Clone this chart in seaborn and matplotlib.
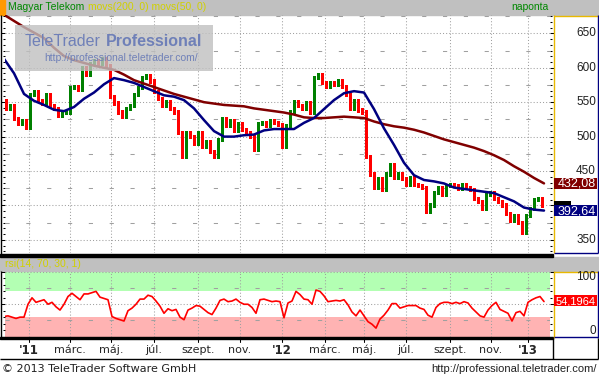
import numpy as np
import pandas as pd
import seaborn as sns
import matplotlib.pyplot as plt
import matplotlib.transforms as mtransforms
from matplotlib.patches import Rectangle
from matplotlib.ticker import MultipleLocator

# Budapest exchange holidays in the period shown (x axis runs in trading days)
holidays = ['2010-12-24', '2011-03-14', '2011-03-15', '2011-04-25', '2011-06-13',
            '2011-10-31', '2011-11-01', '2011-12-26', '2012-03-15', '2012-03-16',
            '2012-04-09', '2012-04-30', '2012-05-01', '2012-05-28', '2012-08-20',
            '2012-10-22', '2012-10-23', '2012-11-01', '2012-11-02', '2012-12-24',
            '2012-12-25', '2012-12-26', '2012-12-31', '2013-01-01']
first_day = '2010-11-26'

# Magyar Telekom close, read every 4th trading day
close = [552, 540, 545, 525, 518, 522, 513, 560, 565, 552,
         548, 560, 545, 540, 530, 535, 535, 570, 572, 568,
         600, 590, 605, 610, 605, 612, 602, 558, 548, 535,
         528, 540, 545, 560, 570, 585, 588, 580, 565, 555,
         545, 550, 540, 535, 505, 470, 505, 500, 490, 505,
         485, 492, 478, 470, 495, 525, 515, 522, 508, 518,
         510, 505, 500, 480, 518, 520, 515, 522, 520, 517,
         485, 515, 535, 550, 545, 540, 548, 535, 585, 590,
         578, 572, 578, 575, 580, 572, 560, 540, 552, 538,
         535, 470, 445, 425, 438, 422, 445, 458, 440, 445,
         438, 430, 440, 430, 428, 425, 390, 400, 418, 425,
         415, 428, 430, 428, 424, 430, 426, 422, 410, 405,
         395, 415, 418, 410, 405, 400, 388, 378, 385, 375,
         360, 385, 395, 408, 410, 400]

# rsi(14), same days as close
rsi = [31, 32, 30, 28, 30, 30, 50, 60, 53, 55,
       57, 50, 53, 46, 41, 50, 62, 67, 62, 57,
       66, 66, 68, 70, 61, 59, 57, 31, 28, 26,
       24, 40, 44, 50, 58, 58, 64, 62, 55, 47,
       36, 43, 40, 42, 30, 26, 41, 44, 48, 47,
       42, 37, 34, 44, 56, 58, 54, 55, 58, 53,
       50, 50, 45, 36, 57, 58, 56, 54, 55, 54,
       29, 52, 55, 70, 65, 58, 57, 50, 72, 70,
       63, 54, 55, 56, 55, 57, 49, 38, 32, 41,
       32, 23, 19, 13, 27, 33, 41, 51, 51, 44,
       46, 48, 48, 48, 44, 42, 33, 30, 45, 51,
       53, 53, 51, 53, 51, 54, 52, 44, 38, 32,
       30, 41, 48, 53, 42, 39, 36, 24, 37, 39,
       32, 53, 57, 60, 62, 54.1964]

# moving averages, read every 10th trading day
ma200 = [677, 668, 659, 651, 643, 629, 617, 611, 607, 603,
         600, 597, 590, 582, 577, 572, 567, 562, 558, 554,
         550, 548, 546, 545, 544, 541, 539, 537, 535, 532,
         528, 527, 527, 528, 529, 528, 527, 522, 518, 515,
         513, 510, 506, 501, 496, 492, 488, 484, 479, 473,
         466, 457, 449, 440, 432.08]
ma50 = [613, 592, 562, 552, 546, 539, 537, 543, 555, 564,
        576, 585, 582, 578, 572, 566, 560, 558, 553, 541,
        524, 508, 500, 500, 502, 503, 509, 511, 511, 511,
        520, 527, 540, 553, 563, 566, 564, 540, 512, 488,
        462, 444, 437, 435, 432, 426, 424, 422, 420, 418,
        412, 406, 397, 394, 392.64]

month_starts = ['2011-01-01', '2011-03-01', '2011-05-01', '2011-07-01', '2011-09-01',
                '2011-11-01', '2012-01-01', '2012-03-01', '2012-05-01', '2012-07-01',
                '2012-09-01', '2012-11-01', '2013-01-01']
month_labels = ["'11", 'márc.', 'máj.', 'júl.', 'szept.', 'nov.', "'12",
                'márc.', 'máj.', 'júl.', 'szept.', 'nov.', "'13"]
# 400 sits behind the value boxes on the right scale
price_labels = [350, 450, 500, 550, 600, 650]

sns.set_style('white')
plt.rcParams['font.family'] = ['DejaVu Sans']

cal = pd.offsets.CustomBusinessDay(holidays=holidays)
days = pd.date_range(first_day, '2013-03-29', freq=cal)
px = pd.DataFrame({'date': days[::4][:len(close)], 'close': close, 'rsi': rsi})
px['day'] = days.get_indexer(px['date'])
ma = pd.DataFrame({'date': days[::10][:len(ma50)], 'ma200': ma200, 'ma50': ma50})
ma['day'] = days.get_indexer(ma['date'])
tick_days = [days.searchsorted(pd.Timestamp(m)) for m in month_starts]

W, H = 599, 377
fig = plt.figure(figsize=(W / 100, H / 100), dpi=100)
fig.patch.set_facecolor('white')


def box(x0, y0, x1, y1):
    return [x0 / W, 1 - y1 / H, (x1 - x0) / W, (y1 - y0) / H]


bg = fig.add_axes([0, 0, 1, 1], zorder=0)
bg.set_xlim(0, W)
bg.set_ylim(H, 0)
bg.axis('off')
bg.add_patch(Rectangle((0, 0), W, 14.5, color='#c0c0c0'))
bg.add_patch(Rectangle((0, 0), 5, 14.5, color='#ff9900'))
bg.add_patch(Rectangle((0, 256.5), W, 14, color='#c0c0c0'))

XLIM = (1, 546)
DOT = dict(color='#a0a0a0', lw=0.75, ls=(0, (1, 2)), zorder=1)
DASH = dict(color='#a0a0a0', lw=0.75, ls=(0, (4, 16)), zorder=1)

# ---- price panel
ax = fig.add_axes(box(5, 15, 550, 253), zorder=2)
ax.set_facecolor('none')
for lv in range(350, 651, 50):
    ax.axhline(lv, **DOT)
for lv in range(375, 700, 50):
    ax.axhline(lv, **DASH)
for d in tick_days:
    ax.axvline(d, **DOT)

# bars from one reading to the next, a little range added for the intraday swing
prev = px['close'].shift(1).to_numpy()
cur = px['close'].to_numpy()
lo = np.minimum(prev, cur)[1:] - 3
hi = np.maximum(prev, cur)[1:] + 3
cols = np.where(cur[1:] >= prev[1:], '#008000', '#ff0000')
ax.bar(px['day'].to_numpy()[1:] - 1.5, hi - lo, bottom=lo, width=2.8,
       color=cols, linewidth=0, zorder=2)

sns.lineplot(data=ma, x='day', y='ma200', ax=ax, color='#800000', linewidth=1.8, zorder=3)
sns.lineplot(data=ma, x='day', y='ma50', ax=ax, color='#000080', linewidth=1.8, zorder=4)
ax.set_xlim(*XLIM)
ax.set_ylim(331, 676.6)
ax.yaxis.set_major_locator(MultipleLocator(50))
ax.yaxis.set_minor_locator(MultipleLocator(50 / 6))

# ---- rsi panel
rax = fig.add_axes(box(5, 272, 550, 336.5), zorder=2)
rax.set_facecolor('none')
rax.axhspan(70, 100, color='#b3ffb3', zorder=0, lw=0)
rax.axhspan(0, 30, color='#ffb3b3', zorder=0, lw=0)
for lv in (0, 50, 100):
    rax.axhline(lv, clip_on=False, **DOT)
for lv in (25, 75):
    rax.axhline(lv, **DASH)
for d in tick_days:
    rax.axvline(d, **DOT)
sns.lineplot(data=px, x='day', y='rsi', ax=rax, color='#ff0000', linewidth=1.2, zorder=3)
rax.set_xlim(*XLIM)
rax.set_ylim(0, 100)
rax.yaxis.set_major_locator(MultipleLocator(50))
rax.yaxis.set_minor_locator(MultipleLocator(10))

for a in (ax, rax):
    a.set(xlabel=None, ylabel=None)
    for s in a.spines.values():
        s.set_visible(False)
    a.tick_params(axis='x', bottom=False, labelbottom=False)
    a.tick_params(axis='y', which='both', left=True, right=True, labelleft=False,
                  labelright=False, direction='out', color='black', width=0.75)
    a.tick_params(axis='y', which='major', length=3)
    a.tick_params(axis='y', which='minor', length=1.6)

# ---- overlay: frames, labels, watermark
ov = fig.add_axes([0, 0, 1, 1], zorder=10)
ov.set_xlim(0, W)
ov.set_ylim(H, 0)
ov.axis('off')


def ypix(a, v):
    return H - a.transData.transform((0, v))[1]


YEL, NAVY = '#e8b800', '#000080'
ln = dict(lw=1, solid_capstyle='butt')
ov.add_patch(Rectangle((0, 253.5), 553, 3, color='black'))
ov.add_patch(Rectangle((0, 337), 553, 2, color='black'))
ov.plot([0.5, 0.5], [15, 253.5], color='black', **ln)
ov.plot([0.5, 0.5], [271, 337], color='black', **ln)
for top, bot in ((15, 253), (271, 337.5)):
    ov.plot([553.5, 553.5], [top, bot], color=YEL, **ln)
    ov.plot([553.5, 597.5], [top + 0.5, top + 0.5], color=YEL, **ln)
    ov.plot([597.5, 597.5], [top, bot], color=NAVY, **ln)
    ov.plot([553.5, 597.5], [bot - 0.5, bot - 0.5], color=NAVY, **ln)
ov.plot([0, 598], [358.5, 358.5], color='black', **ln)
ov.plot([552.5, 552.5], [338, 358.5], color='black', **ln)
ov.plot([597.5, 597.5], [338, 358.5], color='black', **ln)

# headers
HDR = dict(fontsize=7.5, family='Liberation Sans', va='center')
ov.text(8, 7.5, 'Magyar Telekom', color='#008800', **HDR)
ov.text(88, 7.5, 'movs(200, 0) movs(50, 0)', color='#d0d000', **HDR)
ov.text(549, 7.5, 'naponta', color='#008800', ha='right', **HDR)
ov.text(5, 264, 'rsi(14, 70, 30, 1)', color='#d0d000', **HDR)

# price scale
SCALE = dict(ha='right', va='center', fontsize=8.5, family='Liberation Sans', color='#202020')
for v in price_labels:
    ov.text(596, ypix(ax, v), str(v), **SCALE)


def value_box(yc, text, face, size):
    ov.add_patch(Rectangle((553.5, yc - 5.5), 43.5, 11, facecolor=face,
                           edgecolor='none', zorder=11))
    ov.text(595.5, yc + 0.5, text, color='white', ha='right', va='center',
            fontsize=size, family='Liberation Sans', zorder=12)


value_box(ypix(ax, ma200[-1]), f'{ma200[-1]:.2f}'.replace('.', ','), '#800000', 9)
# last-close box, almost fully covered by the MA50 box
ov.add_patch(Rectangle((553.5, ypix(ax, ma50[-1]) - 10), 17, 10, facecolor='black',
                       edgecolor='none', zorder=11))
value_box(ypix(ax, ma50[-1]), f'{ma50[-1]:.2f}'.replace('.', ','), NAVY, 9)

# rsi scale
ov.text(596, ypix(rax, 100) + 5, '100', **SCALE)
ov.text(596, ypix(rax, 0) - 5, '0', **SCALE)
value_box(ypix(rax, rsi[-1]) - 1, f'{rsi[-1]:.4f}'.replace('.', ','), '#ff0000', 8)

# month axis
trans = mtransforms.blended_transform_factory(rax.transData, ov.transData)
for d, lab in zip(tick_days, month_labels):
    bold = lab.startswith("'")
    ov.text(d, 350, lab, transform=trans, ha='center', va='center',
            fontsize=8.5 if bold else 8, fontweight='bold' if bold else 'normal')
    ov.plot([d, d], [339, 342], transform=trans, color='black', lw=0.75)

# watermark over the price panel
WM = '#6f80b8'
ov.add_patch(Rectangle((15, 25), 198, 46, facecolor='#c0c0c0', alpha=0.8,
                       edgecolor='none', zorder=11))
ov.text(25, 41, 'TeleTrader', color=WM, fontsize=11.5, family='Liberation Sans',
        va='center', zorder=12)
ov.text(106, 41, 'Professional', color=WM, fontsize=11.5, family='Liberation Sans',
        fontweight='bold', va='center', ha='left', zorder=12)
ov.text(198, 58, 'http://professional.teletrader.com/', color=WM, fontsize=7.5,
        family='Liberation Sans', va='center', ha='right', zorder=12)

# footer
ov.text(2, 369, '© 2013 TeleTrader Software GmbH', fontsize=8, va='center', color='#202020')
ov.text(597, 369, 'http://professional.teletrader.com/', fontsize=8,
        family='Liberation Sans', va='center', ha='right', color='#202020')

fig.savefig('out.png', dpi=100)
